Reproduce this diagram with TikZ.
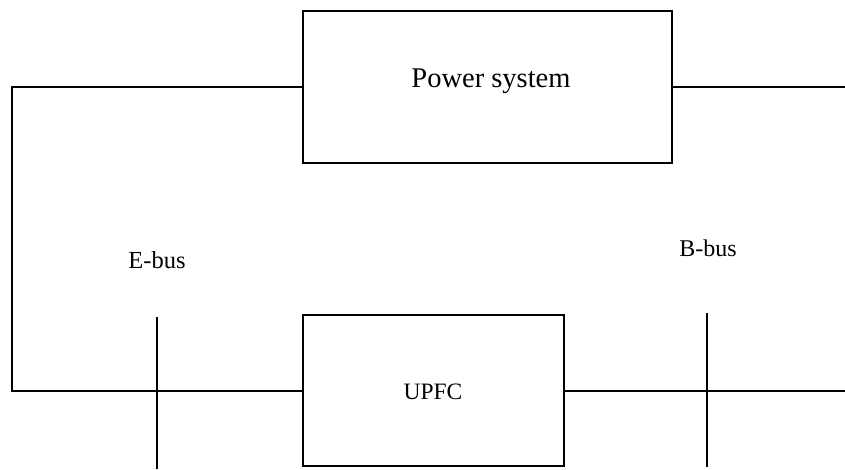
\documentclass[tikz,border=0pt]{standalone}
\usepackage{fontspec}
\setmainfont{Liberation Serif}
\usetikzlibrary{positioning,calc}
\tikzset{
  blockbox/.style={rectangle,draw=black,line width=2pt,inner sep=0pt},
  txtlbl/.style={inner sep=0pt,anchor=base},
  wire/.style={line width=2pt,color=black}
}
\begin{document}
\begin{tikzpicture}[x=1pt,y=-1pt]
  \useasboundingbox (0,0) rectangle (845,469);

  \node[blockbox,minimum width=369pt,minimum height=152pt] (ps) at (487.5,87) {};
  \node[blockbox,minimum width=261pt,minimum height=151pt] (upfc) at (433.5,390.5) {};

  \node[txtlbl,font=\fontsize{28.5}{34}\selectfont] (pstxt) at (491,87) {Power system};
  \node[txtlbl,font=\fontsize{23.5}{28}\selectfont] (upfctxt) at (433,399) {UPFC};
  \node[txtlbl,font=\fontsize{24.5}{29}\selectfont] (etxt) at (157,268) {E-bus};
  \node[txtlbl,font=\fontsize{24}{29}\selectfont] (btxt) at (708,256) {B-bus};

  % bus bars
  \coordinate (etop) at (157,317);
  \coordinate (ebot) at (157,469);
  \coordinate (btop) at (707,313);
  \coordinate (bbot) at (707,467);
  \draw[wire] (etop) -- (ebot);
  \draw[wire] (btop) -- (bbot);

  % loop on the left
  \coordinate (lup) at (12,87);
  \coordinate (ldn) at (12,390.5);
  \draw[wire] (ps.west) -- (lup) -- (ldn) -- (upfc.west);

  % lines to the right
  \coordinate (rup) at (845,87);
  \coordinate (rdn) at (845,390.5);
  \draw[wire] (ps.east) -- (rup);
  \draw[wire] (upfc.east) -- (rdn);
\end{tikzpicture}
\end{document}
